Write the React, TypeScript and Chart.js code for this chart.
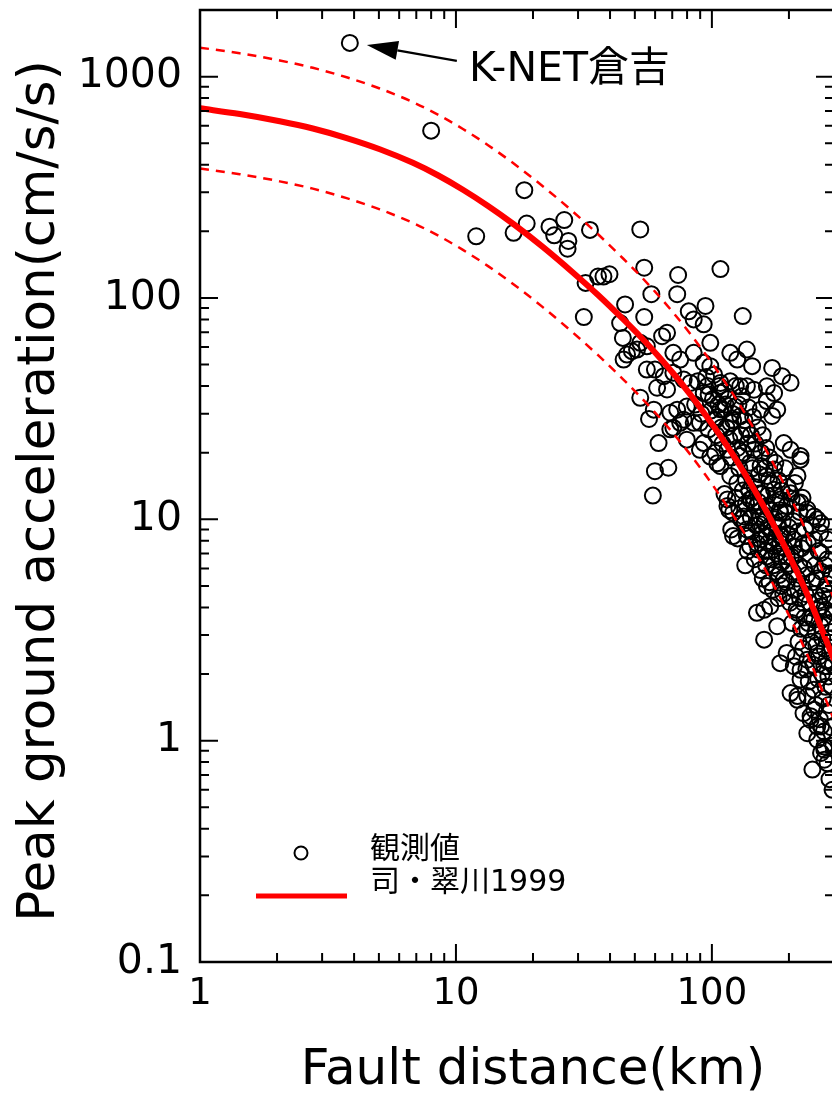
import React, { useEffect, useRef } from "react";
import { Chart, registerables } from "chart.js";

Chart.register(...registerables);

// ---------------- data ----------------
const xRange = [1, 300];
const yRange = [0.1, 2000];
const xTicks = [1, 10, 100];
const xTickLabels = ["1", "10", "100"];
const yTicks = [0.1, 1, 10, 100, 1000];
const yTickLabels = ["0.1", "1", "10", "100", "1000"];

const xTitle = "Fault distance(km)";
const yTitle = "Peak ground acceleration(cm/s/s)";
const obsLabel = "観測値";
const modelLabel = "司・翠川1999";
const noteLabel = "K-NET倉吉";
const noteIndex = 0;

// observed PGA (fault distance km, cm/s/s)
const obsX = [
  3.85, 8.0, 12.0, 18.5, 16.8, 18.9, 23.2, 26.5, 24.2, 27.5,
  27.3, 33.4, 52.5, 54.4, 73.8, 73.2, 32.1, 35.9, 37.7, 39.8,
  31.6, 45.8, 54.4, 58, 43.8, 44.9, 46.6, 45.2, 48.7, 51,
  52.5, 55.7, 63.9, 66.8, 81.2, 84.9, 92.9, 94.4, 98.6, 108,
  70.7, 75.2, 84.9, 92.9, 98.6, 59.9, 64.9, 70.7, 77.6, 61.1,
  66.8, 55.7, 52.5, 59.3, 56.8, 68.8, 73.2, 70.7, 77.6, 84.9,
  79.8, 61.9, 96.1, 108, 101, 108, 92.9, 98.6, 105, 59.9,
  67.6, 58.8, 132, 118, 125.6, 137, 143.6, 172, 188, 203,
  82.4, 92.9, 97.1, 108, 118, 129, 137, 146, 164, 175,
  164, 180, 172, 155, 75.2, 68.8, 79.8, 89.8, 97.1, 105,
  111, 118, 123, 129, 137, 89.8, 115, 108, 118, 125.6,
  129, 141, 146, 155, 164, 175, 191, 203, 222, 216,
  115, 121, 133, 146, 155, 169, 185, 196, 222, 236,
  258, 265, 137, 150, 164, 185, 209, 135, 160, 247,
  115, 130, 141, 155, 164, 175, 185, 203, 216, 236,
  251, 267, 121, 137, 141, 155, 164, 175, 185, 196,
  209, 228, 251, 267, 283, 291, 155, 164, 150, 160,
  169, 180, 191, 203, 216, 228, 236, 251, 267, 275,
  185, 196, 209, 222, 236, 258, 275, 203, 216, 228,
  243, 251, 267, 236, 258, 275, 267, 283, 288, 296,
  222, 283, 213, 222, 216, 236, 243, 258, 275, 275,
  102, 104, 106, 110, 112, 114, 116, 119, 120, 122,
  124, 126, 127, 128, 130, 131, 133, 134, 136, 138,
  139, 140, 142, 144, 145, 147, 148, 150, 151, 153,
  154, 156, 157, 158, 159, 161, 162, 163, 165, 166,
  167, 168, 170, 171, 172, 174, 176, 177, 178, 179,
  181, 182, 183, 184, 186, 187, 188, 189, 190, 192,
  193, 194, 195, 197, 198, 199, 200, 202, 204, 205,
  206, 207, 208, 210, 211, 212, 214, 215, 217, 218,
  219, 220, 221, 223, 224, 225, 226, 227, 229, 230,
  231, 232, 234, 235, 237, 238, 239, 241, 242, 244,
  245, 246, 248, 249, 250, 252, 253, 254, 255, 256,
  257, 259, 260, 261, 262, 263, 264, 266, 268, 269,
  270, 271, 272, 273, 274, 276, 277, 278, 279, 280,
  281, 282, 284, 285, 286, 287, 289, 290, 292, 293,
  294, 295, 297, 298, 299,
  112, 117, 119, 124, 126, 128, 132, 134, 136, 138,
  142, 143, 145, 147, 149, 152, 152, 157, 158, 161,
  163, 166, 168, 171, 173, 176, 178, 182, 184, 187,
  103, 107, 109, 113, 117, 121, 86, 88, 91, 95,
  99, 103,
];
const obsY = [
  1420, 570, 190, 307, 197, 217, 210, 225, 192, 181,
  167, 203, 204, 137, 127, 104, 117, 125, 125, 128,
  82, 93.5, 82, 104, 77, 66, 55.5, 52.7, 57.5, 58.5,
  62.7, 60.5, 67.2, 69.6, 87, 80, 76, 92, 62.7, 135,
  56.5, 52.7, 56.5, 51, 49.2, 47.5, 44.3, 45.9, 42.8, 39.3,
  38.6, 47.5, 35.4, 31.3, 28.4, 30.3, 31.3, 25.9, 28.2, 27.3,
  22.9, 22.1, 40, 37.3, 35, 31.4, 22.1, 19.2, 17.9, 16.5,
  17.1, 12.8, 82.8, 56.5, 52.7, 58.5, 49.2, 48.3, 44.3, 41.4,
  41.3, 37.2, 36.6, 41.3, 42, 39.9, 39.9, 38.5, 39.9, 37.2,
  34.2, 31.3, 29.3, 31.3, 27.3, 25.5, 32.3, 27.3, 25.5, 29,
  31.3, 27.3, 32.3, 29.2, 25.5, 20.6, 20.6, 17.4, 15.7, 14.6,
  19.3, 18, 20.6, 17.4, 15.7, 16.8, 22.1, 20.6, 18.6, 15.7,
  11.5, 10.7, 10.3, 11.9, 10.3, 11.1, 10.7, 11.5, 11.9, 10.7,
  10, 8.7, 8.4, 7.8, 8.4, 7.8, 8.1, 6.2, 2.86, 0.74,
  12.3, 10, 12.3, 13.1, 11.5, 13.6, 12.3, 13.1, 11.9, 11.1,
  10.3, 9.6, 8.4, 9, 7.55, 8.1, 6.8, 7.55, 8.4, 6.8,
  7.55, 7.8, 8.1, 7.05, 6.6, 5.7, 5.9, 5.0, 3.78, 3.9,
  4.05, 3.29, 5.35, 4.49, 3.78, 4.19, 3.18, 3.52, 4.05, 4.8,
  2.24, 2.49, 2.17, 1.89, 2.32, 2.49, 2.17, 1.64, 1.53, 1.33,
  1.24, 1.38, 1.16, 1.08, 1.01, 0.94, 0.88, 0.79, 0.67, 0.6,
  19.3, 8.1, 2.4, 2.09, 1.59, 1.59, 1.29, 1.16, 0.91, 0.82,
  45, 24, 33, 22, 38, 26, 35, 19, 30, 24,
  40, 21, 33, 17, 24, 36, 20, 28, 15, 22,
  32, 13.5, 24, 17, 29, 14, 22, 11.5, 26, 16,
  9.5, 20, 13, 24, 10.5, 17, 7.2, 21, 12.8, 9.2,
  15, 19, 11, 8.8, 14.5, 6.2, 10, 18, 12, 7,
  9.2, 15, 5.6, 11, 8.5, 13.5, 6.4, 9.8, 4.6, 7.4,
  17, 10.8, 5.2, 8.6, 14, 6.3, 9.2, 4.2, 6.8, 12.4,
  3.4, 5.8, 9.8, 4.8, 14.6, 7, 3.9, 5.4, 8.8, 2.8,
  6.2, 10.8, 4.4, 3.2, 7.4, 5, 12.5, 2.6, 6, 3.6,
  9, 4.6, 2.1, 5.6, 7.8, 3.4, 1.85, 4.2, 6.6, 2.8,
  9.4, 3.6, 5.2, 2.2, 1.7, 4.6, 6.2, 3.1, 1.45, 2.7,
  5.4, 3.9, 1.9, 7.2, 2.4, 4.3, 1.25, 3.3, 5.8, 2,
  2.9, 1.55, 4.5, 3.6, 1.1, 2.6, 6.2, 1.75, 3.9, 2.3,
  1.35, 5.1, 2.9, 1.95, 3.4, 1.45, 4.4, 2.5, 1.15, 3.1,
  1.75, 5.6, 2.2, 0.95, 3.8,
  13, 11, 9, 12.5, 8.2, 11.2, 13.5, 9.6, 11.8, 7.2,
  10.2, 8.8, 12.6, 6.6, 9.4, 7.3, 12, 8.6, 5.4, 9.8,
  6.2, 7.8, 5.2, 6.6, 4.8, 8.2, 5.8, 4.4, 6.8, 5,
  28, 40, 26, 33, 23, 28, 33, 42, 30, 44,
  31, 20,
];

// attenuation curve (mean) and +/- 1 sigma
const curveX = [
  1, 1.43, 2.05, 2.76, 3.74, 5.04, 6.79, 8.5, 10.65, 13.35, 16.72, 21.9, 28.7, 36,
  45, 52.5, 61.2, 70.7, 82.4, 94.3, 108, 124.7, 145.3, 169.4, 197.5, 236.5, 300,
];
const meanY = [
  719, 678, 629, 583, 528, 470, 408, 358.5, 308.3, 260.4, 216.4, 169.7, 130.1, 102.9,
  80.2, 67, 55.3, 45.6, 36.6, 29.7, 23.8, 18.5, 13.8, 10.05, 7.11, 4.55, 2.32,
];
const upperY = [
  1352, 1275, 1183, 1096, 993, 884, 767, 674, 580, 490, 407, 319, 245, 193.5,
  150.8, 126, 104, 85.7, 68.8, 55.8, 44.7, 34.8, 25.9, 18.9, 13.4, 8.55, 4.36,
];
const lowerY = [
  384.5, 362.6, 336.4, 311.8, 282.4, 251.3, 218.2, 191.7, 164.9, 139.3, 115.7, 90.7, 69.6, 55,
  42.9, 35.8, 29.6, 24.4, 19.6, 15.9, 12.7, 9.89, 7.38, 5.37, 3.8, 2.43, 1.24,
];

// ---------------- styling / layout ----------------
const FONT = '"DejaVu Sans", "Noto Sans CJK JP", sans-serif';
const CANVAS_W = 860;
const CANVAS_H = 1093;

const overlayPlugin = {
  id: "overlay",
  afterDatasetsDraw(chart: any) {
    const { ctx, chartArea: a } = chart;
    const xs = chart.scales.x;
    const ys = chart.scales.y;
    ctx.save();

    // frame
    ctx.strokeStyle = "#000";
    ctx.lineWidth = 2.5;
    ctx.strokeRect(a.left, a.top, a.right - a.left, a.bottom - a.top);

    // inward ticks on all four sides
    ctx.lineWidth = 2;
    ctx.beginPath();
    for (const d of xTicks) {
      for (let m = 1; m <= 9; m++) {
        const v = d * m;
        if (v > xRange[1] + 1e-9) continue;
        const len = m === 1 ? 18 : 9;
        const px = xs.getPixelForValue(v);
        ctx.moveTo(px, a.bottom);
        ctx.lineTo(px, a.bottom - len);
        ctx.moveTo(px, a.top);
        ctx.lineTo(px, a.top + len);
      }
    }
    for (const d of yTicks) {
      for (let m = 1; m <= 9; m++) {
        const v = d * m;
        if (v > yRange[1] * 1.0001) continue;
        const len = m === 1 ? 18 : 9;
        const py = ys.getPixelForValue(v);
        ctx.moveTo(a.left, py);
        ctx.lineTo(a.left + len, py);
        ctx.moveTo(a.right, py);
        ctx.lineTo(a.right - len, py);
      }
    }
    ctx.stroke();

    // axis titles
    ctx.fillStyle = "#000";
    ctx.font = `50px ${FONT}`;
    ctx.textAlign = "center";
    ctx.textBaseline = "alphabetic";
    ctx.fillText(xTitle, 533, 1084);

    ctx.save();
    ctx.translate(54, 491);
    ctx.rotate(-Math.PI / 2);
    ctx.font = `51.5px ${FONT}`;
    ctx.fillText(yTitle, 0, 0);
    ctx.restore();

    // legend
    const ds = chart.data.datasets;
    const obsDs = ds.find((d: any) => d.label === obsLabel);
    const modelDs = ds.find((d: any) => d.label === modelLabel);
    ctx.beginPath();
    ctx.arc(301, 853, 6.5, 0, Math.PI * 2);
    ctx.lineWidth = 2;
    ctx.strokeStyle = obsDs.borderColor;
    ctx.stroke();
    ctx.beginPath();
    ctx.moveTo(256, 896);
    ctx.lineTo(347, 896);
    ctx.lineWidth = 5;
    ctx.strokeStyle = modelDs.borderColor;
    ctx.stroke();
    ctx.font = `30px ${FONT}`;
    ctx.textAlign = "left";
    ctx.textBaseline = "middle";
    ctx.fillStyle = "#000";
    ctx.fillText(obsDs.label, 370, 850);
    ctx.fillText(modelDs.label, 370, 883);

    // annotation arrow to the K-NET Kurayoshi record
    const px = xs.getPixelForValue(obsX[noteIndex]);
    const py = ys.getPixelForValue(obsY[noteIndex]);
    const tipX = px + 17, tipY = py + 2;
    const tailX = px + 107, tailY = py + 18;
    const ang = Math.atan2(tipY - tailY, tipX - tailX);
    const hl = 31, hw = 9.5;
    const bx = tipX - hl * Math.cos(ang);
    const by = tipY - hl * Math.sin(ang);
    ctx.beginPath();
    ctx.moveTo(tailX, tailY);
    ctx.lineTo(bx, by);
    ctx.lineWidth = 2.2;
    ctx.strokeStyle = "#000";
    ctx.stroke();
    ctx.beginPath();
    ctx.moveTo(tipX, tipY);
    ctx.lineTo(bx + hw * Math.sin(ang), by - hw * Math.cos(ang));
    ctx.lineTo(bx - hw * Math.sin(ang), by + hw * Math.cos(ang));
    ctx.closePath();
    ctx.fillStyle = "#000";
    ctx.fill();
    ctx.font = `41px ${FONT}`;
    ctx.textAlign = "left";
    ctx.textBaseline = "alphabetic";
    ctx.fillText(noteLabel, 469, 81);

    ctx.restore();
  },
};

export default function App() {
  const ref = useRef<HTMLCanvasElement | null>(null);

  useEffect(() => {
    if (!ref.current) return;
    const toPts = (xa: number[], ya: number[]) => xa.map((x, i) => ({ x, y: ya[i] }));
    const chart = new Chart(ref.current, {
      type: "scatter",
      data: {
        datasets: [
          {
            label: modelLabel,
            data: toPts(curveX, meanY),
            showLine: true,
            borderColor: "#ff0000",
            borderWidth: 6,
            pointRadius: 0,
            cubicInterpolationMode: "monotone",
            order: 0,
          } as any,
          {
            label: "upper",
            data: toPts(curveX, upperY),
            showLine: true,
            borderColor: "#ff0000",
            borderWidth: 2.5,
            borderDash: [9, 7],
            pointRadius: 0,
            cubicInterpolationMode: "monotone",
            order: 1,
          } as any,
          {
            label: "lower",
            data: toPts(curveX, lowerY),
            showLine: true,
            borderColor: "#ff0000",
            borderWidth: 2.5,
            borderDash: [9, 7],
            pointRadius: 0,
            cubicInterpolationMode: "monotone",
            order: 1,
          } as any,
          {
            label: obsLabel,
            data: toPts(obsX, obsY),
            showLine: false,
            borderColor: "#000000",
            backgroundColor: "rgba(0,0,0,0)",
            borderWidth: 2,
            pointRadius: 8,
            pointStyle: "circle",
            order: 2,
          } as any,
        ],
      },
      options: {
        animation: false,
        responsive: false,
        devicePixelRatio: 1,
        events: [],
        layout: { padding: { left: 0, right: 26, top: 10, bottom: 0 } },
        plugins: { legend: { display: false }, tooltip: { enabled: false } },
        scales: {
          x: {
            type: "logarithmic",
            position: "bottom",
            min: xRange[0],
            max: xRange[1],
            afterFit: (s: any) => {
              s.height = 131;
              s.paddingLeft = 0;
              s.paddingRight = 0;
            },
            afterBuildTicks: (s: any) => {
              s.ticks = xTicks.map((v) => ({ value: v }));
            },
            grid: { display: false, drawTicks: false },
            border: { display: false },
            ticks: {
              autoSkip: false,
              maxRotation: 0,
              padding: 10,
              color: "#000",
              font: { family: FONT, size: 37 },
              callback: (v: any) => xTickLabels[xTicks.indexOf(Number(v))] ?? "",
            },
          },
          y: {
            type: "logarithmic",
            position: "left",
            min: yRange[0],
            max: yRange[1],
            afterFit: (s: any) => {
              s.width = 200;
              s.paddingTop = 0;
              s.paddingBottom = 0;
            },
            afterBuildTicks: (s: any) => {
              s.ticks = yTicks.map((v) => ({ value: v }));
            },
            grid: { display: false, drawTicks: false },
            border: { display: false },
            ticks: {
              autoSkip: false,
              padding: 18,
              color: "#000",
              font: { family: FONT, size: 41 },
              callback: (v: any) => yTickLabels[yTicks.indexOf(Number(v))] ?? "",
            },
          },
        },
      } as any,
      plugins: [overlayPlugin],
    });
    return () => chart.destroy();
  }, []);

  return (
    <div
      style={{
        position: "absolute",
        left: 0,
        top: 0,
        width: 832,
        height: 1093,
        overflow: "hidden",
        background: "#fff",
      }}
    >
      <canvas
        ref={ref}
        width={CANVAS_W}
        height={CANVAS_H}
        style={{ display: "block", width: CANVAS_W, height: CANVAS_H }}
      />
    </div>
  );
}
